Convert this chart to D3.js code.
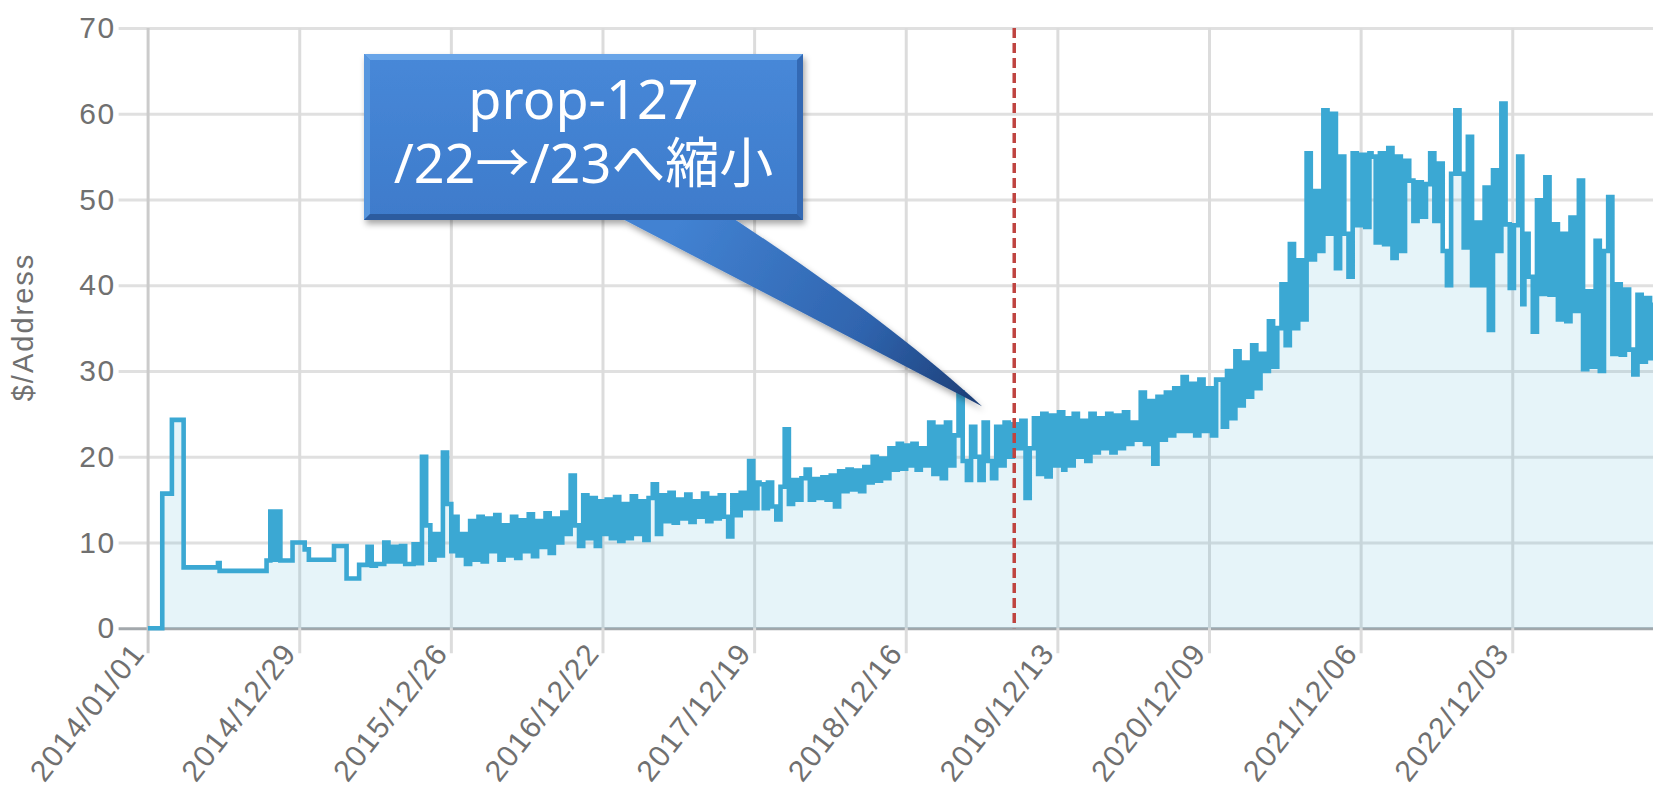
<!DOCTYPE html>
<html>
<head>
<meta charset="utf-8">
<script src="https://cdn.jsdelivr.net/npm/d3@7"></script>
<style>
  body { margin: 0; background: #fff; }
  svg { display: block; }
</style>
</head>
<body>
<div id="vis"></div>
<script>
// ---- data ----
var startDate = '2014/01/01', endDate = '2023/11/04';
var markerDate = '2019/09/01';   // red dashed line
var yTicks = [0, 10, 20, 30, 40, 50, 60, 70];
var tickLabels = ['2014/01/01', '2014/12/29', '2015/12/26', '2016/12/22', '2017/12/19',
                  '2018/12/16', '2019/12/13', '2020/12/09', '2021/12/06', '2022/12/03'];

// 2014: sparse price changes [date, $/address]
var steps2014 = [
  ['2014/01/01', 0], ['2014/02/05', 15.7], ['2014/02/28', 24.3], ['2014/03/28', 7.1],
  ['2014/06/18', 7.6], ['2014/06/22', 6.7], ['2014/10/12', 7.9], ['2014/10/21', 13.6],
  ['2014/10/28', 8.0], ['2014/11/05', 13.6], ['2014/11/14', 7.9], ['2014/12/13', 10.0]
];

// from 2015 on: one value every 10 days, starting on Jan 1 of each year
var sampleDays = 10;
var prices2015 = [10, 9.2, 8, 8, 8, 8, 8, 8, 9.6, 9.6, 9.6, 5.8, 5.8, 5.8, 7.4, 7.4, 9.5, 7.3, 7.5,
  7.5, 10, 7.8, 9.5, 7.8, 9.6, 7.5, 7.5, 9.8, 7.6, 20, 12, 8, 11, 8.5, 20.5, 14.5, 9];
var prices2016 = [13, 8.5, 11, 7.5, 12.5, 8, 13, 7.8, 12.8, 9, 13.2, 8, 12, 8.5, 13, 8.2, 12.6, 9,
  13.3, 8.4, 12.5, 9.5, 13.4, 8.8, 12.8, 10, 13.5, 11, 17.8, 12, 9.6, 15.5, 10.5, 15.2, 9.6, 14.8, 11];
var prices2017 = [15, 10.5, 15.3, 10.2, 14.5, 10.5, 15.4, 11, 14.8, 10.3, 15.2, 16.8, 11, 15.5, 12.5,
  15.8, 12.3, 15, 12.8, 15.6, 12.4, 14.8, 13, 15.7, 12.5, 15.2, 12.8, 15.5, 13, 10.7, 15.5, 13.2, 15.8,
  14, 19.5, 14, 17];
var prices2018 = [16.8, 14, 17, 14.2, 12.7, 16.5, 23.2, 14.5, 17.3, 15, 17.5, 18.5, 15, 17.4, 15.2,
  17.6, 15, 17.8, 14.2, 18.3, 16, 18.5, 16.2, 18.4, 16, 18.8, 17, 20, 17.2, 19.8, 17.5, 21, 18.5, 21.5,
  18.6, 21.3, 19];
var prices2019 = [21.5, 18.5, 21, 19, 24, 18, 23.5, 17.5, 24, 19, 22.5, 27.5, 19.5, 17.3, 23.5, 20,
  17.3, 24, 19.5, 17.5, 23.5, 19, 24, 20, 23.8, 21, 24.2, 15.2, 21, 24.5, 18, 25, 17.7, 24.8, 19, 25.2,
  18.5];
var prices2020 = [24.5, 19, 25, 20, 24.2, 19.5, 25, 20.5, 24.5, 21, 25, 20.5, 24.8, 21, 25.2, 21.5, 24,
  22, 27.5, 21.5, 26.5, 19.2, 27, 22, 27.5, 22.5, 28, 23, 29.3, 23, 28.5, 22.5, 29, 23, 28, 22.5, 29];
var prices2021 = [29, 23.5, 30, 24.5, 32.3, 26, 31, 27, 33, 28, 32, 30, 35.8, 30.5, 35, 40.1, 33, 44.8,
  35, 42.9, 36, 55.4, 43, 51, 44, 60.4, 46, 60, 42, 55, 46, 41, 55.4, 47, 55.2, 46.8, 55.4];
var prices2022 = [55, 45, 55.4, 44.8, 56, 43.2, 55, 44, 54.5, 52.2, 47.5, 52, 48, 51.8, 55.4, 47.5,
  54.2, 44, 40, 53, 60.4, 53, 44.4, 57.3, 40, 47.3, 40, 51.4, 34.8, 53.4, 44, 61.2, 47.1, 39.7, 47, 55,
  37.8];
var prices2023 = [46, 41, 34.6, 49.9, 39, 52.6, 38.9, 47.1, 36, 46, 35.8, 47.9, 37, 52.2, 30.2, 39.3,
  30.5, 45.2, 30, 44, 50.3, 32, 40.1, 31.9, 39.5, 32.5, 29.6, 38.9, 31.1, 38.5, 31.5, 38];

var calloutLines = ['prop-127', '/22\u2192/23へ縮小'];
var calloutTip = ['2019/06/16', 25.9];

// ---- layout ----
var width = 1653, height = 799;
var plotLeft = 147.6, plotRight = 1653, plotTop = 28, plotBottom = 628.3;
var lineColor = '#3ba8d3';
var labelFont = '"Liberation Sans", Arial, sans-serif';

var parseDay = d3.timeParse('%Y/%m/%d');

var x = d3.scaleTime()
  .domain([parseDay(startDate), parseDay(endDate)])
  .range([plotLeft, plotRight]);

var y = d3.scaleLinear()
  .domain([0, 70])
  .range([plotBottom, plotTop]);

// build the series
var points = steps2014.map(function(d) { return {date: parseDay(d[0]), value: d[1]}; });
[[2015, prices2015], [2016, prices2016], [2017, prices2017], [2018, prices2018],
 [2019, prices2019], [2020, prices2020], [2021, prices2021], [2022, prices2022],
 [2023, prices2023]].forEach(function(yr) {
  yr[1].forEach(function(v, i) {
    points.push({date: d3.timeDay.offset(new Date(yr[0], 0, 1), i * sampleDays), value: v});
  });
});

var svg = d3.select('#vis').append('svg')
  .attr('width', width)
  .attr('height', height);

var defs = svg.append('defs');
defs.append('clipPath').attr('id', 'plotClip')
  .append('rect')
  .attr('x', plotLeft).attr('y', 0)
  .attr('width', plotRight - plotLeft).attr('height', plotBottom + 3);

var shadow = defs.append('filter').attr('id', 'shadow')
  .attr('x', '-10%').attr('y', '-10%').attr('width', '130%').attr('height', '140%');
shadow.append('feDropShadow')
  .attr('dx', 2).attr('dy', 4).attr('stdDeviation', 3)
  .attr('flood-color', '#000').attr('flood-opacity', 0.35);

var boxGrad = defs.append('linearGradient').attr('id', 'boxGrad')
  .attr('x1', 0).attr('y1', 0).attr('x2', 0).attr('y2', 1);
boxGrad.append('stop').attr('offset', '0%').attr('stop-color', '#4788d8');
boxGrad.append('stop').attr('offset', '100%').attr('stop-color', '#3e7bcb');

// ---- y axis + horizontal grid ----
var yAxis = d3.axisLeft(y)
  .tickValues(yTicks)
  .tickSize(-(plotRight - plotLeft))
  .tickPadding(32);

var gy = svg.append('g')
  .attr('transform', 'translate(' + plotLeft + ',0)')
  .call(yAxis)
  .attr('font-family', labelFont)
  .attr('font-size', 30);
gy.select('.domain').remove();
gy.selectAll('.tick line')
  .attr('x1', -29)
  .attr('stroke', function(d) { return d === 0 ? '#a3a8ac' : '#e0e0e0'; })
  .attr('stroke-width', 3);
gy.selectAll('.tick text')
  .attr('fill', '#707070')
  .style('letter-spacing', '1.5px');

// ---- x axis + vertical grid ----
var tickDates = tickLabels.map(parseDay);
var xAxis = d3.axisBottom(x)
  .tickValues(tickDates)
  .tickFormat(d3.timeFormat('%Y/%m/%d'))
  .tickSize(-(plotBottom - plotTop));

var gx = svg.append('g')
  .attr('transform', 'translate(0,' + plotBottom + ')')
  .call(xAxis)
  .attr('font-family', labelFont)
  .attr('font-size', 30);
gx.select('.domain').remove();
gx.selectAll('.tick line')
  .attr('y1', 25)
  .attr('stroke', function(d, i) { return i === 0 ? '#cbcbcb' : '#dcdcdc'; })
  .attr('stroke-width', 3);
gx.selectAll('.tick text')
  .attr('y', 0)
  .attr('dy', 0)
  .attr('fill', '#707070')
  .style('letter-spacing', '1.5px')
  .style('text-anchor', 'end')
  .attr('transform', 'translate(-2,25) rotate(-52)');

// y title
svg.append('text')
  .attr('transform', 'translate(23,327) rotate(-90)')
  .attr('text-anchor', 'middle')
  .attr('dominant-baseline', 'central')
  .attr('font-family', labelFont)
  .attr('font-size', 29)
  .attr('fill', '#707070')
  .style('letter-spacing', '2px')
  .text('$/Address');

// ---- area + step line ----
var plot = svg.append('g').attr('clip-path', 'url(#plotClip)');

var area = d3.area()
  .curve(d3.curveStepAfter)
  .x(function(d) { return x(d.date); })
  .y0(y(0))
  .y1(function(d) { return y(d.value); });

var line = d3.line()
  .curve(d3.curveStepAfter)
  .x(function(d) { return x(d.date); })
  .y(function(d) { return y(d.value); });

plot.append('path')
  .datum(points)
  .attr('d', area)
  .attr('fill', lineColor)
  .attr('fill-opacity', 0.13);

plot.append('path')
  .datum(points)
  .attr('d', line)
  .attr('fill', 'none')
  .attr('stroke', lineColor)
  .attr('stroke-width', 4.6)
  .attr('stroke-linejoin', 'miter');

// red dashed marker
svg.append('line')
  .attr('x1', x(parseDay(markerDate))).attr('x2', x(parseDay(markerDate)))
  .attr('y1', y(70)).attr('y2', y(0))
  .attr('stroke', '#bf4440')
  .attr('stroke-width', 3.5)
  .attr('stroke-dasharray', '10,5');

// ---- callout ----
var box = {x: 364, y: 54, w: 439, h: 166};
var tipX = x(parseDay(calloutTip[0])), tipY = y(calloutTip[1]);

var tailGrad = defs.append('linearGradient').attr('id', 'tailGrad')
  .attr('gradientUnits', 'userSpaceOnUse')
  .attr('x1', 680).attr('y1', box.y + box.h).attr('x2', tipX).attr('y2', tipY);
tailGrad.append('stop').attr('offset', '0%').attr('stop-color', '#4282d2');
tailGrad.append('stop').attr('offset', '60%').attr('stop-color', '#2f64ae');
tailGrad.append('stop').attr('offset', '100%').attr('stop-color', '#1c3c74');

var callout = svg.append('g').attr('filter', 'url(#shadow)');

callout.append('path')
  .attr('d', 'M615,' + (box.y + box.h - 5) + ' L' + tipX + ',' + tipY +
    ' C' + (tipX - 62) + ',' + (tipY - 56) + ' ' + (tipX - 132) + ',' + (tipY - 111) +
    ' 728,' + (box.y + box.h - 5) + ' Z')
  .attr('fill', 'url(#tailGrad)');

callout.append('rect')
  .attr('x', box.x).attr('y', box.y)
  .attr('width', box.w).attr('height', box.h)
  .attr('fill', 'url(#boxGrad)');

// bevel edges
var b = 6, x0 = box.x, y0 = box.y, x1 = box.x + box.w, y1 = box.y + box.h;
var bevels = [
  {pts: [[x0, y0], [x1, y0], [x1 - b, y0 + b], [x0 + b, y0 + b]], fill: '#69a5e8'},
  {pts: [[x0, y0], [x0 + b, y0 + b], [x0 + b, y1 - b], [x0, y1]], fill: '#5796de'},
  {pts: [[x1, y0], [x1, y1], [x1 - b, y1 - b], [x1 - b, y0 + b]], fill: '#3369b4'},
  {pts: [[x0, y1], [x0 + b, y1 - b], [x1 - b, y1 - b], [x1, y1]], fill: '#2c5c9f'}
];
svg.selectAll('.bevel')
  .data(bevels)
  .enter()
  .append('polygon')
  .attr('class', 'bevel')
  .attr('points', function(d) { return d.pts.map(function(p) { return p.join(','); }).join(' '); })
  .attr('fill', function(d) { return d.fill; });

svg.selectAll('.calloutText')
  .data(calloutLines)
  .enter()
  .append('text')
  .attr('class', 'calloutText')
  .attr('x', box.x + box.w / 2)
  .attr('y', function(d, i) { return 119 + i * 64; })
  .attr('text-anchor', 'middle')
  .attr('font-family', '"Noto Sans", "Noto Sans CJK JP", sans-serif')
  .attr('font-size', 54)
  .attr('fill', '#fff')
  .text(function(d) { return d; });
</script>
</body>
</html>
